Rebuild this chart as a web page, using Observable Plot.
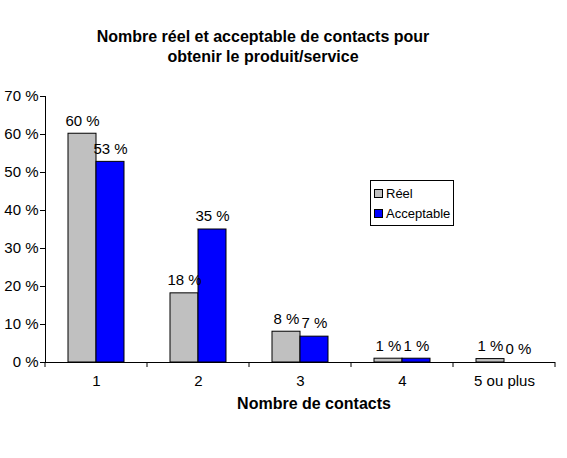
<!DOCTYPE html>
<html>
<head>
<meta charset="utf-8">
<script src="https://cdn.jsdelivr.net/npm/d3@7"></script>
<script src="https://cdn.jsdelivr.net/npm/@observablehq/plot@0.6"></script>
<style>
  body { margin: 0; background: white; font-family: "Liberation Sans", Arial, sans-serif; }
  #wrap { position: relative; width: 567px; height: 458px; }
  #title { position: absolute; top: 27px; left: 0; width: 526px; text-align: center;
           font-weight: bold; font-size: 16px; line-height: 20px; }
  #xtitle { position: absolute; top: 395px; left: 164px; width: 300px; text-align: center;
            font-weight: bold; font-size: 16px; }
  #legend { position: absolute; left: 370px; top: 180px; width: 82px; height: 44px;
            border: 1px solid black; background: white; font-size: 13px; }
  #legend div { position: absolute; left: 3px; white-space: nowrap; }
  #legend span { display: inline-block; width: 7px; height: 7px; border: 1px solid black;
                 margin-right: 3px; vertical-align: 0px; }
</style>
</head>
<body>
<div id="wrap"></div>
<script>
const categories = ["1", "2", "3", "4", "5 ou plus"];
const series = ["Réel", "Acceptable"];
const colors = ["#c0c0c0", "#0000ff"];
const reel = [60.2, 18.2, 8.1, 1.0, 0.9];
const acceptable = [52.8, 35.0, 6.8, 1.0, 0];

const rows = categories.flatMap((c, i) => [
  { cat: c, serie: series[0], value: reel[i] },
  { cat: c, serie: series[1], value: acceptable[i] }
]);

const chart = Plot.plot({
  width: 567,
  height: 458,
  marginTop: 96,
  marginBottom: 96,
  marginLeft: 43,
  marginRight: 10,
  style: { fontFamily: "Liberation Sans, Arial, sans-serif", fontSize: "15px", color: "black", background: "white" },
  fx: { domain: categories, padding: 0, label: null, tickSize: 0, tickPadding: 13 },
  x: { domain: series, paddingInner: 0, paddingOuter: 0.77, axis: null },
  y: {
    domain: [0, 70],
    ticks: d3.range(0, 71, 10),
    tickFormat: (d) => `${d} %`,
    tickSize: 5,
    tickPadding: 2,
    label: null,
    line: true
  },
  color: { domain: series, range: colors },
  marks: [
    Plot.barY(rows, { fx: "cat", x: "serie", y: "value", fill: "serie", stroke: "black", strokeWidth: 1 }),
    Plot.text(rows, {
      fx: "cat", x: "serie", y: "value",
      text: (d) => `${Math.round(d.value)} %`,
      dy: -13, fontSize: 15, fill: "black"
    }),
    Plot.ruleY([0], { stroke: "black" })
  ]
});

// petites graduations entre les catégories
const fx = chart.scale("fx");
const y0 = chart.scale("y").apply(0);
const edges = categories.map((c) => fx.apply(c)).concat([fx.apply(categories.at(-1)) + fx.bandwidth]);
d3.select(chart).append("g")
  .selectAll("line")
  .data(edges)
  .join("line")
  .attr("x1", (d) => d).attr("x2", (d) => d)
  .attr("y1", y0).attr("y2", y0 + 5)
  .attr("stroke", "black");

const wrap = document.getElementById("wrap");
wrap.append(chart);
wrap.insertAdjacentHTML("beforeend", `
  <div id="title">Nombre réel et acceptable de contacts pour<br>obtenir le produit/service</div>
  <div id="xtitle">Nombre de contacts</div>
  <div id="legend">
    <div style="top:5px"><span style="background:${colors[0]}"></span>${series[0]}</div>
    <div style="top:25px"><span style="background:${colors[1]}"></span>${series[1]}</div>
  </div>`);
</script>
</body>
</html>
